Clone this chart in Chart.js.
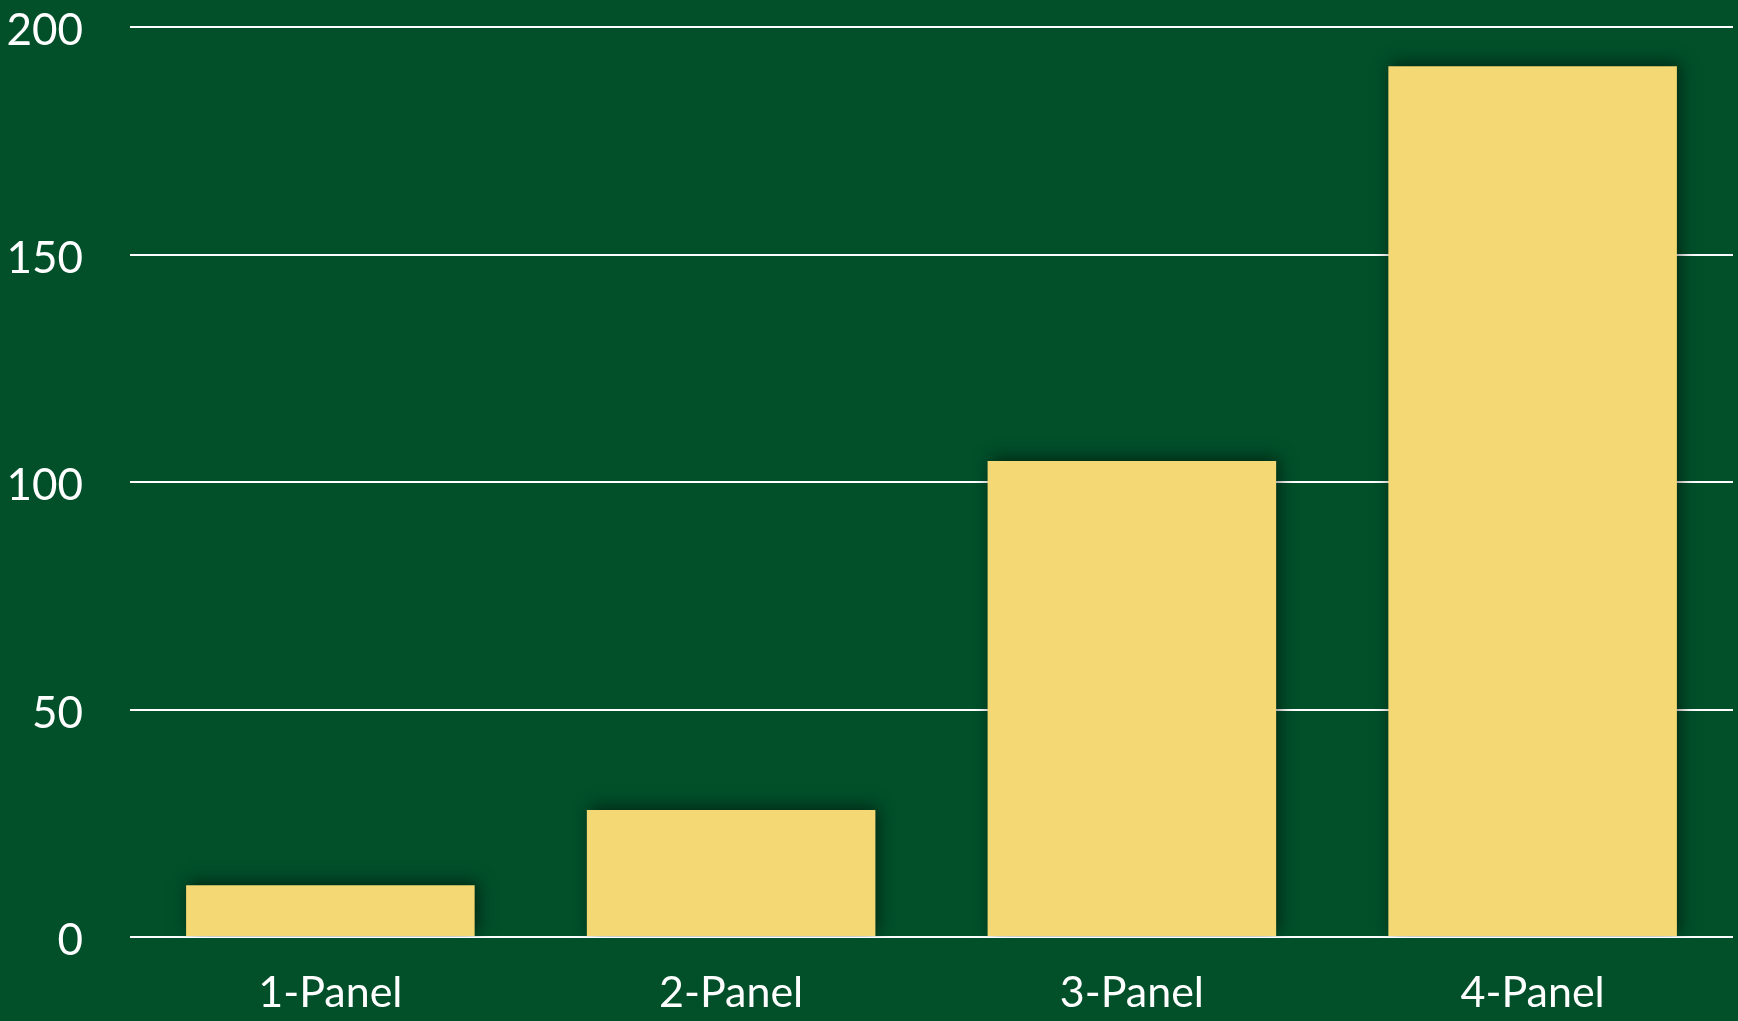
<!DOCTYPE html>
<html>
<head>
<meta charset="utf-8">
<script src="https://cdn.jsdelivr.net/npm/chart.js@4"></script>
<style>
  html, body { margin: 0; padding: 0; background: #01502a; }
  #wrap { width: 1738px; height: 1021px; }
</style>
</head>
<body>
<div id="wrap"><canvas id="chart"></canvas></div>
<script>
// dati
var categories = ["1-Panel", "2-Panel", "3-Panel", "4-Panel"];
var values = [11.4, 27.9, 104.6, 191.4];
var yTicks = [0, 50, 100, 150, 200];

//Plugin per l'ombra delle barre
var barShadow = {
    id: 'barShadow',
    beforeDatasetsDraw: function(chart){
        var ctx = chart.ctx;
        ctx.save();
        ctx.shadowColor = 'rgba(0, 0, 0, 0.55)';
        ctx.shadowBlur = 16;
        ctx.shadowOffsetX = 3;
        ctx.shadowOffsetY = -3;
    },
    afterDatasetsDraw: function(chart){
        chart.ctx.restore();
    }
};

var ctx = document.getElementById("chart");

chart = new Chart(ctx, {
    type: 'bar',
    data: {
        labels: categories,
        datasets: [{
            data: values,
            backgroundColor: '#f3d874',
            borderWidth: 0,
            barPercentage: 0.72,
            categoryPercentage: 1.0
        }]
    },
    options: {
        responsive: true,
        maintainAspectRatio: false,
        animation: false,
        layout: {
            padding: { top: 0, right: 5, left: 0, bottom: 0 }
        },
        plugins: {
            legend: { display: false },
            tooltip: { enabled: false }
        },
        scales: {
            x: {
                grid: { display: false, drawTicks: false },
                border: { display: false },
                ticks: {
                    color: '#ffffff',
                    padding: 30,
                    font: { family: 'Lato', size: 43 }
                },
                afterFit: function(scale){ scale.height = 84; }
            },
            y: {
                min: 0,
                max: 200,
                afterBuildTicks: function(scale){
                    scale.ticks = yTicks.map(v => ({ value: v }));
                },
                grid: {
                    color: '#ffffff',
                    lineWidth: 2,
                    drawTicks: false
                },
                border: { display: false },
                ticks: {
                    color: '#ffffff',
                    padding: 47,
                    labelOffset: 4,
                    font: { family: 'Lato', size: 44 }
                },
                afterFit: function(scale){
                    scale.width = 130;
                    scale.paddingTop = 27;
                    scale.paddingBottom = 0;
                }
            }
        }
    },
    plugins: [barShadow]
});
</script>
</body>
</html>
